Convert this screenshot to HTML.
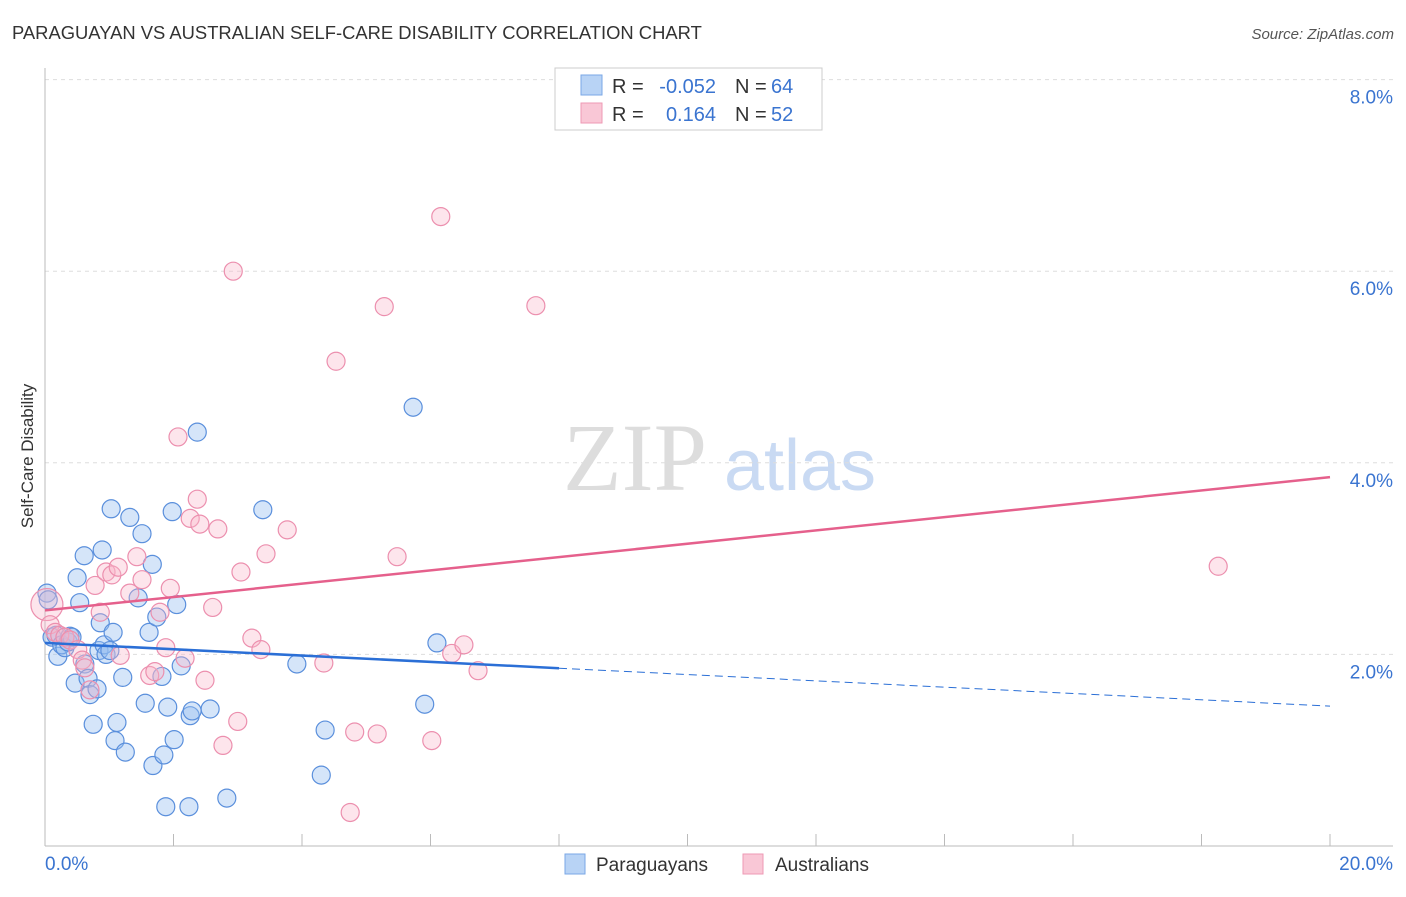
<!DOCTYPE html>
<html><head><meta charset="utf-8"><style>
body{margin:0;background:#fff;font-family:"Liberation Sans",sans-serif}
</style></head><body>
<svg id="c" width="1406" height="892" xmlns="http://www.w3.org/2000/svg">
<text x="12" y="39" font-size="18.4" fill="#333">PARAGUAYAN VS AUSTRALIAN SELF-CARE DISABILITY CORRELATION CHART</text>
<text x="1394" y="39" font-size="15" fill="#555" font-style="italic" text-anchor="end">Source: ZipAtlas.com</text>
<text x="33" y="456" font-size="17" fill="#333" text-anchor="middle" transform="rotate(-90 33 456)">Self-Care Disability</text>
<g><text x="635" y="490" font-size="96" font-family="Liberation Serif" fill="#ddd" text-anchor="middle">ZIP</text><text x="800" y="490" font-size="72" fill="#c9daf3" text-anchor="middle">atlas</text></g>
<g id="grid"></g><g id="axes"></g><g id="pts"></g><g id="trend"></g>
<g>
<rect x="555" y="68" width="267" height="62" fill="#fff" stroke="#ccc"/>
<rect x="581" y="75" width="21" height="20" fill="#b8d3f5" stroke="#7aa7e6"/>
<rect x="581" y="103" width="21" height="20" fill="#f9c7d6" stroke="#ee9ab4"/>
<text x="612" y="93" font-size="20" fill="#333">R =</text>
<text x="716" y="93" font-size="20" fill="#3a74d0" text-anchor="end">-0.052</text>
<text x="735" y="93" font-size="20" fill="#333">N =</text>
<text x="771" y="93" font-size="20" fill="#3a74d0">64</text>
<text x="612" y="121" font-size="20" fill="#333">R =</text>
<text x="716" y="121" font-size="20" fill="#3a74d0" text-anchor="end">0.164</text>
<text x="735" y="121" font-size="20" fill="#333">N =</text>
<text x="771" y="121" font-size="20" fill="#3a74d0">52</text>
</g>
<g>
<rect x="565" y="854" width="20" height="20" fill="#b8d3f5" stroke="#7aa7e6"/>
<text x="596" y="871" font-size="19" fill="#333">Paraguayans</text>
<rect x="743" y="854" width="20" height="20" fill="#f9c7d6" stroke="#ee9ab4"/>
<text x="775" y="871" font-size="19" fill="#333">Australians</text>
</g>
</svg>
<script>
const xTicks=[0,20];
const yTicks=[2,4,6,8];
const blueX=[0.03,0.05,0.11,0.17,0.20,0.26,0.31,0.36,0.39,0.42,0.47,0.50,0.54,0.61,0.62,0.67,0.70,0.75,0.81,0.84,0.86,0.89,0.92,0.95,1.01,1.03,1.06,1.09,1.12,1.21,1.25,1.32,1.45,1.51,1.56,1.62,1.67,1.68,1.74,1.82,1.85,1.88,1.91,1.98,2.01,2.05,2.12,2.24,2.26,2.29,2.37,2.57,2.83,3.39,3.92,4.30,4.36,5.73,5.91,6.10];
const blueY=[2.64,2.57,2.18,2.20,1.98,2.10,2.07,2.13,2.19,2.18,1.70,2.80,2.54,3.03,1.90,1.75,1.58,1.27,1.64,2.04,2.33,3.09,2.10,2.00,2.04,3.52,2.23,1.10,1.29,1.76,0.98,3.43,2.59,3.26,1.49,2.23,2.94,0.84,2.39,1.77,0.95,0.41,1.45,3.49,1.11,2.52,1.88,0.41,1.36,1.41,4.32,1.43,0.50,3.51,1.90,0.74,1.21,4.58,1.48,2.12];
const pinkX=[0.03,0.08,0.16,0.23,0.31,0.39,0.51,0.58,0.62,0.70,0.78,0.86,0.95,1.04,1.14,1.17,1.32,1.43,1.51,1.63,1.71,1.79,1.88,1.95,2.07,2.18,2.26,2.37,2.41,2.49,2.61,2.69,2.77,2.93,3.00,3.05,3.22,3.36,3.44,3.77,4.34,4.53,4.75,4.82,5.17,5.28,5.48,6.02,6.16,6.33,6.52,6.74,7.64,18.26];
const pinkY=[2.52,2.31,2.23,2.20,2.18,2.15,2.05,1.94,1.86,1.63,2.72,2.44,2.86,2.83,2.91,1.99,2.64,3.02,2.78,1.78,1.82,2.44,2.07,2.69,4.27,1.96,3.42,3.62,3.36,1.73,2.49,3.31,1.05,6.00,1.30,2.86,2.17,2.05,3.05,3.30,1.91,5.06,0.35,1.19,1.17,5.63,3.02,1.10,6.57,2.01,2.10,1.83,5.64,2.92];
const blueTrend=[2.12,1.46]; // y at x=0 and x=20
const pinkTrend=[2.46,3.85];
const NS='http://www.w3.org/2000/svg';
const X=v=>45+v*64.25, Y=v=>846-v*95.8;
function mk(p,t,a){const e=document.createElementNS(NS,t);for(const k in a)e.setAttribute(k,a[k]);p.appendChild(e);return e;}
const grid=document.getElementById('grid'),axes=document.getElementById('axes'),pts=document.getElementById('pts'),tr=document.getElementById('trend');
yTicks.forEach(t=>{const l=mk(grid,'line',{x1:45,x2:1393,y1:Y(t),y2:Y(t),stroke:'#ddd','stroke-dasharray':'4 4'});


const tx=mk(axes,'text',{x:1393,y:Y(t)+24,'font-size':19,fill:'#3a74d0','text-anchor':'end'});tx.textContent=t.toFixed(1)+'%';

});
mk(axes,'line',{x1:45,x2:45,y1:68,y2:846,stroke:'#bbb'});
mk(axes,'line',{x1:45,x2:1393,y1:846,y2:846,stroke:'#bbb'});
for(let i=1;i<=10;i++){const t=mk(axes,'line',{x1:X(i*2),x2:X(i*2),y1:846,y2:834,stroke:'#bbb'});

}
xTicks.forEach((t,i)=>{const tx=mk(axes,'text',{x:i?1393:45,y:870,'font-size':19,fill:'#3a74d0','text-anchor':i?'end':'start'});tx.textContent=t.toFixed(1)+'%';

});
blueX.forEach((v,i)=>{const c=mk(pts,'circle',{cx:X(v),cy:Y(blueY[i]),r:9,fill:'rgba(150,190,240,0.4)',stroke:'#5a8fdc','stroke-width':1.2});

});
pinkX.forEach((v,i)=>{const c=mk(pts,'circle',{cx:X(v),cy:Y(pinkY[i]),r:i?9:16,fill:'rgba(248,180,200,0.35)',stroke:'#ec8fae','stroke-width':1.2});

});
const by=x=>blueTrend[0]+(blueTrend[1]-blueTrend[0])*x/20;
let l=mk(tr,'line',{x1:X(0),y1:Y(by(0)),x2:X(8),y2:Y(by(8)),stroke:'#2b6fd6','stroke-width':2.5});


l=mk(tr,'line',{x1:X(8),y1:Y(by(8)),x2:X(20),y2:Y(by(20)),stroke:'#2b6fd6','stroke-width':1,'stroke-dasharray':'8 5'});


l=mk(tr,'line',{x1:X(0),y1:Y(pinkTrend[0]),x2:X(20),y2:Y(pinkTrend[1]),stroke:'#e5608c','stroke-width':2.5});


</script>
</body></html>
